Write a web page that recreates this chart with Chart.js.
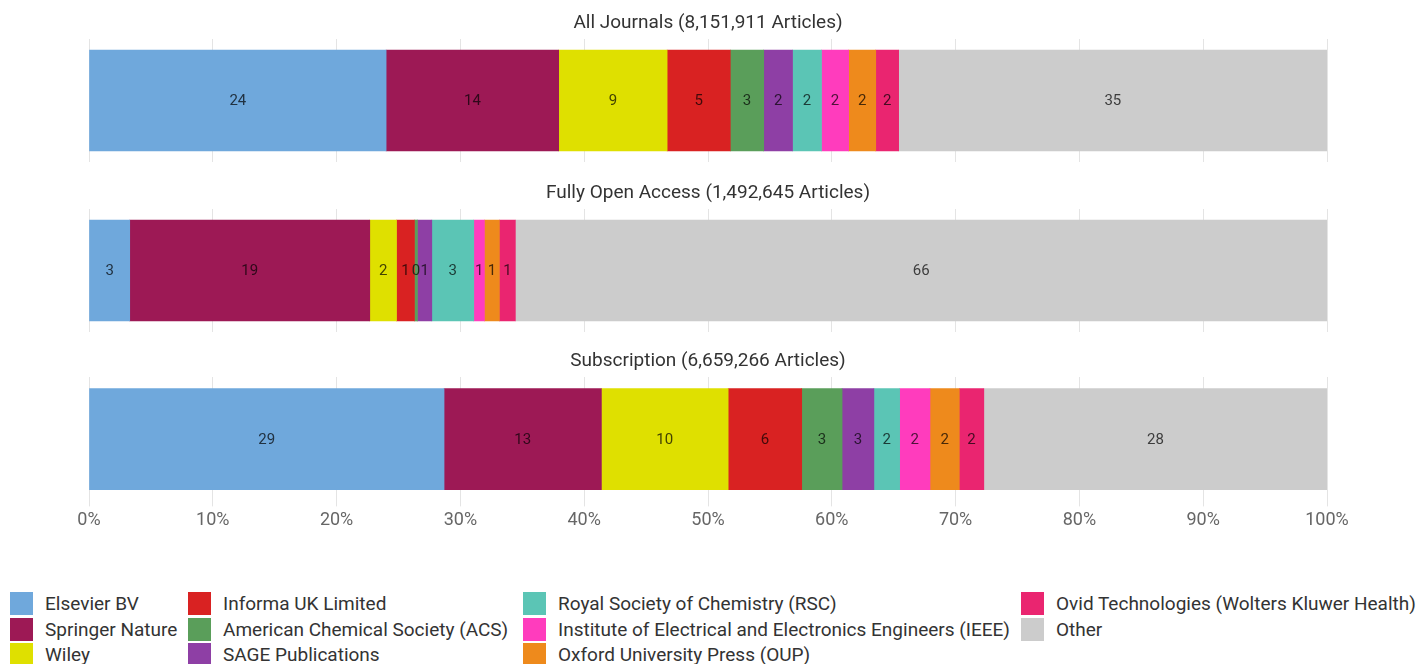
<!DOCTYPE html>
<html>
<head>
<meta charset="utf-8">
<script src="https://cdn.jsdelivr.net/npm/chart.js@4.4.1/dist/chart.umd.min.js"></script>
<style>
    body { margin: 0; background: #fff; font-family: Roboto, sans-serif; }
    #wrap { position: relative; width: 1421px; height: 664px; overflow: hidden; }
    .bar-box { position: absolute; left: 0; width: 1421px; }
    #legend {
        position: absolute; left: 10px; top: 591px;
        display: grid;
        grid-template-columns: 178px 335px 498px auto;
        grid-template-rows: repeat(3, 25.5px);
        grid-auto-flow: column;
        font-size: 19px; color: #333;
    }
    .item { display: flex; align-items: center; white-space: nowrap; }
    .swatch { width: 23px; height: 23px; margin-right: 12px; flex: none; }
</style>
</head>
<body>
<div id="wrap">
    <div class="bar-box" style="top:2px;height:160px"><canvas id="c1"></canvas></div>
    <div class="bar-box" style="top:172px;height:160px"><canvas id="c2"></canvas></div>
    <div class="bar-box" style="top:340px;height:198px"><canvas id="c3"></canvas></div>
    <div id="legend"></div>
</div>
<script>
// --- Data ---------------------------------------------------------------------------------
const publishers = [
    'Elsevier BV', 'Springer Nature', 'Wiley', 'Informa UK Limited',
    'American Chemical Society (ACS)', 'SAGE Publications', 'Royal Society of Chemistry (RSC)',
    'Institute of Electrical and Electronics Engineers (IEEE)', 'Oxford University Press (OUP)',
    'Ovid Technologies (Wolters Kluwer Health)', 'Other'
]
const colors = [
    '#6fa8dc', '#9d1955', '#dfe000', '#d92222', '#5a9e5a', '#8e3fa5',
    '#5bc5b5', '#ff3cbd', '#ee8a1c', '#ea2570', '#cccccc'
]

const titles = [
    'All Journals (8,151,911 Articles)',
    'Fully Open Access (1,492,645 Articles)',
    'Subscription (6,659,266 Articles)'
]

// share of articles in %, same order as publishers
const allJournals  = [24.0, 13.94, 8.76, 5.1, 2.7, 2.33, 2.34, 2.19, 2.19, 1.85, 34.6]
const fullyOpen    = [3.29, 19.39, 2.16, 1.45, 0.24, 1.16, 3.39, 0.86, 1.21, 1.29, 65.56]
const subscription = [28.68, 12.71, 10.24, 5.94, 3.26, 2.57, 2.08, 2.45, 2.37, 1.98, 27.72]

const xTicks = [0, 10, 20, 30, 40, 50, 60, 70, 80, 90, 100]

// --- Helpers ------------------------------------------------------------------------------
function darken(hex, f) {
    const n = parseInt(hex.slice(1), 16)
    const r = Math.round(((n >> 16) & 255) * f)
    const g = Math.round(((n >> 8) & 255) * f)
    const b = Math.round((n & 255) * f)
    return `rgb(${r}, ${g}, ${b})`
}

// Draws the rounded value in the middle of each segment
const segmentLabels = {
    id: 'segmentLabels',
    afterDatasetsDraw(chart) {
        const ctx = chart.ctx
        ctx.save()
        ctx.font = '15px Roboto'
        ctx.textAlign = 'center'
        ctx.textBaseline = 'middle'
        chart.data.datasets.forEach((ds, i) => {
            const bar = chart.getDatasetMeta(i).data[0]
            if (!bar) return
            ctx.fillStyle = darken(ds.backgroundColor, 0.3)
            ctx.fillText(Math.round(ds.data[0]), (bar.x + bar.base) / 2, bar.y + 1)
        })
        ctx.restore()
    }
}

// --- Charts -------------------------------------------------------------------------------
function createBar(canvas, values, title, showAxis) {
    return new Chart(canvas, {
        type: 'bar',
        data: {
            labels: [title],
            datasets: publishers.map((name, i) => ({
                label: name,
                data: [values[i]],
                backgroundColor: colors[i],
                borderWidth: 0,
                barThickness: 101
            }))
        },
        options: {
            indexAxis: 'y',
            animation: false,
            responsive: true,
            maintainAspectRatio: false,
            layout: { padding: { left: 89, right: 94, top: 0, bottom: showAxis ? 4 : 0 } },
            plugins: {
                legend: { display: false },
                tooltip: { enabled: false },
                title: {
                    display: true,
                    text: title,
                    color: '#333',
                    font: { family: 'Roboto', size: 19, weight: 'normal' },
                    padding: { top: 9.6, bottom: 4.6 }
                }
            },
            scales: {
                x: {
                    stacked: true,
                    min: 0,
                    max: 100,
                    afterBuildTicks: axis => { axis.ticks = xTicks.map(v => ({ value: v })) },
                    border: { display: false },
                    grid: {
                        color: '#e4e4e4',
                        drawTicks: showAxis,
                        tickLength: 5
                    },
                    ticks: {
                        display: showAxis,
                        color: '#666',
                        padding: 3,
                        font: { family: 'Roboto', size: 18 },
                        callback: v => v + '%'
                    }
                },
                y: { stacked: true, display: false }
            }
        },
        plugins: [segmentLabels]
    })
}

createBar(document.getElementById('c1'), allJournals, titles[0], false)
createBar(document.getElementById('c2'), fullyOpen, titles[1], false)
createBar(document.getElementById('c3'), subscription, titles[2], true)

// --- Legend -------------------------------------------------------------------------------
const legend = document.getElementById('legend')
publishers.forEach((name, i) => {
    const item = document.createElement('div')
    item.className = 'item'
    item.innerHTML = `<span class="swatch" style="background:${colors[i]}"></span><span>${name}</span>`
    legend.appendChild(item)
})
</script>
</body>
</html>
